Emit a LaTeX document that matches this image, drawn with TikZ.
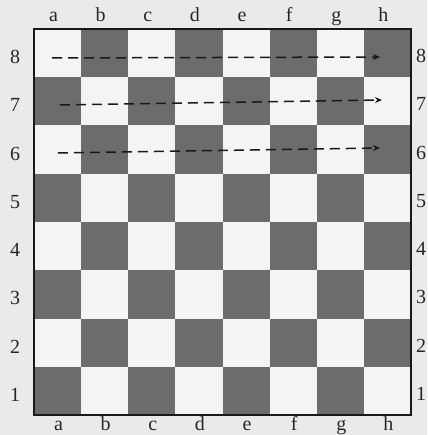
\documentclass[tikz,border=0pt]{standalone}
\usepackage{fontspec}
\setmainfont{Liberation Serif}
\usetikzlibrary{arrows.meta}
\definecolor{bgc}{HTML}{EAEAEA}
\definecolor{lightsq}{HTML}{F4F4F4}
\definecolor{darksq}{HTML}{6C6C6C}
\tikzset{
  lbl/.style={font=\fontsize{20}{22}\selectfont, text=black!85, inner sep=0pt},
  movearrow/.style={draw=black!90, line width=1.5pt, dash pattern=on 10pt off 6pt, -{Stealth[length=7pt,width=6pt]}},
}
\begin{document}
\begin{tikzpicture}[x=1pt,y=-1pt]
\useasboundingbox[fill=bgc] (0,0) rectangle (427,435);
\def\bx{34}\def\by{29}\def\cw{47.125}\def\ch{48.25}
% squares
\foreach \c in {0,...,7}{
  \foreach \r in {0,...,7}{
    \pgfmathtruncatemacro{\sqpar}{mod(\c+\r,2)}
    \ifnum\sqpar=0
      \fill[lightsq] ({\bx+\c*\cw},{\by+\r*\ch}) rectangle ++(\cw,\ch);
    \else
      \fill[darksq] ({\bx+\c*\cw},{\by+\r*\ch}) rectangle ++(\cw,\ch);
    \fi
  }
}
\draw[line width=1.6pt, black!90] (\bx,\by) rectangle ({\bx+8*\cw},{\by+8*\ch});
% file labels
\foreach \f [count=\i from 0] in {a,b,c,d,e,f,g,h}{
  \node[lbl,anchor=base] (top\f) at ({\bx+(\i+0.5)*\cw-4},22) {\f};
  \node[lbl,anchor=base] (bot\f) at ({\bx+(\i+0.5)*\cw+1},430) {\f};
}
% rank labels
\foreach \n [count=\i from 0] in {8,7,6,5,4,3,2,1}{
  \node[lbl] (left\n) at (15,{\by+(\i+0.5)*\ch+4}) {\n};
  \node[lbl] (right\n) at (421,{\by+(\i+0.5)*\ch+3}) {\n};
}
% arrows
\coordinate (s8) at (52,58);  \coordinate (e8) at (380,57);
\coordinate (s7) at (60,105); \coordinate (e7) at (382,100);
\coordinate (s6) at (58,153); \coordinate (e6) at (380,148);
\draw[movearrow] (s8) -- (e8);
\draw[movearrow] (s7) -- (e7);
\draw[movearrow] (s6) -- (e6);
\end{tikzpicture}
\end{document}
